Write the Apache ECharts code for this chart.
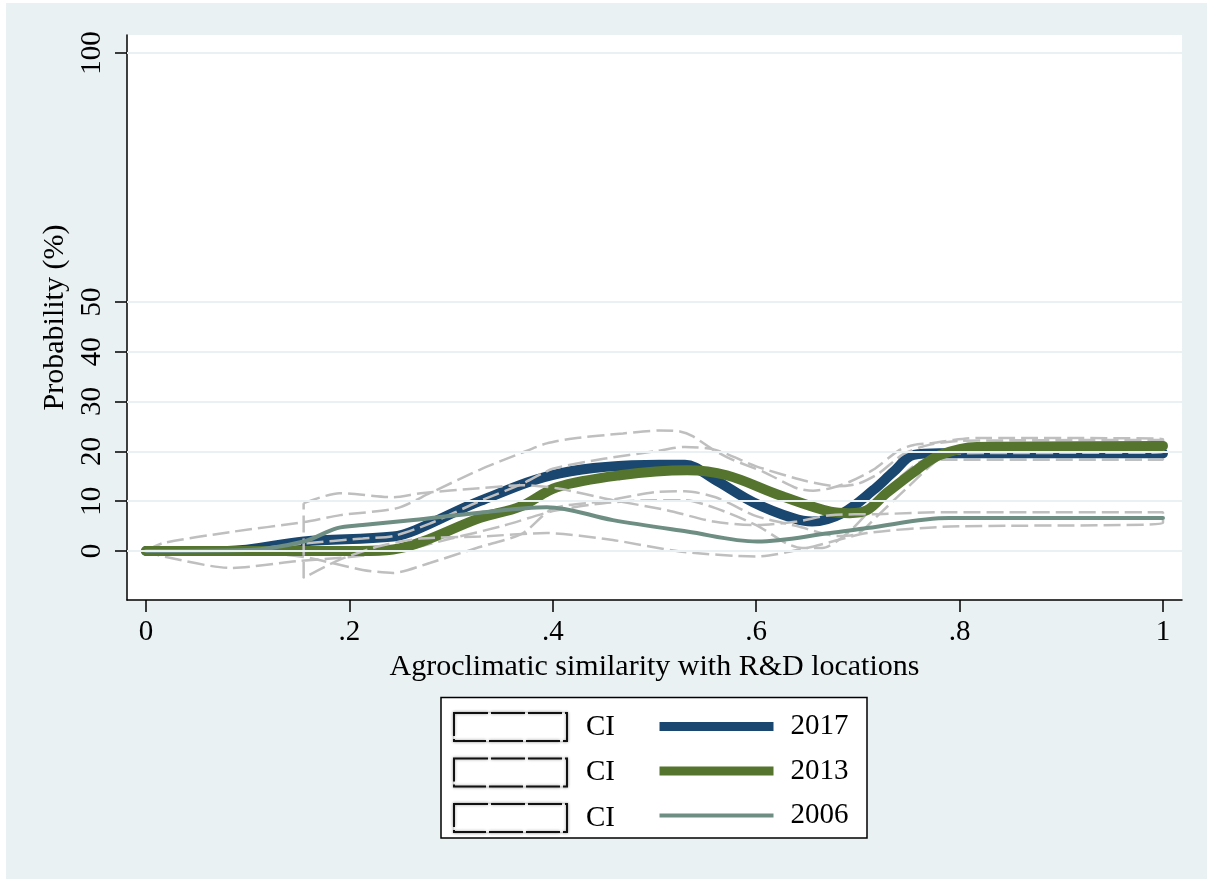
<!DOCTYPE html>
<html>
<head>
<meta charset="utf-8">
<script src="https://cdn.jsdelivr.net/npm/echarts@6/dist/echarts.min.js"></script>
<style>
  body { margin: 0; background: #fff; }
  #panel { position: absolute; left: 6px; top: 3px; width: 1201px; height: 876px; background: #eaf1f3; }
  #mychart { position: absolute; left: 0; top: 0; width: 1207px; height: 879px; }
</style>
</head>
<body>
<div id="panel"></div>
<div id="mychart"></div>
<script>
// x ticks / y ticks
const xTicks = [0, 0.2, 0.4, 0.6, 0.8, 1]
const yTicks = [0, 10, 20, 30, 40, 50, 100]

// fitted probabilities
const line2017 = [[0, 0], [0.08, 0], [0.155, 1.9], [0.243, 2.9], [0.265, 4.2], [0.328, 10], [0.407, 15.6], [0.505, 17.3], [0.53, 17.3], [0.558, 14.5], [0.597, 9.8], [0.636, 6.6], [0.655, 5.9], [0.685, 7.6], [0.715, 12.2], [0.735, 15.9], [0.755, 19.3], [0.78, 19.6], [1, 19.6]]
const line2013 = [[0, 0], [0.21, 0], [0.243, 0.3], [0.272, 1.9], [0.328, 6.6], [0.368, 8.9], [0.404, 12.8], [0.466, 15.2], [0.532, 16.2], [0.571, 15.2], [0.623, 11.2], [0.673, 7.9], [0.692, 7.6], [0.709, 8.2], [0.728, 11.6], [0.758, 16.3], [0.781, 19.3], [0.817, 20.9], [1, 21.1]]
const line2006 = [[0, 0], [0.1, 0.2], [0.155, 1.9], [0.188, 4.6], [0.213, 5.2], [0.263, 6.2], [0.328, 7.7], [0.394, 8.8], [0.459, 6.2], [0.532, 3.9], [0.601, 1.9], [0.673, 3.6], [0.709, 4.6], [0.79, 6.6], [1, 6.6]]

// confidence bands
const upper2017 = [[0, 0], [0.017, 1.6], [0.083, 3.8], [0.155, 5.8], [0.191, 7.2], [0.247, 8.6], [0.279, 11.6], [0.328, 16.3], [0.368, 19.6], [0.394, 21.6], [0.42, 22.6], [0.469, 23.6], [0.505, 24.2], [0.525, 24], [0.538, 23], [0.558, 20.3], [0.577, 18.3], [0.607, 15.9], [0.64, 12.6], [0.656, 12.1], [0.673, 12.6], [0.692, 13.9], [0.715, 16.3], [0.741, 20.3], [0.755, 21.3], [0.774, 21.7], [0.794, 22.3], [0.817, 22.7], [1, 22.5]]
const lower2017 = [[0, 0], [0.017, -1.1], [0.083, -3.4], [0.15, -2], [0.2, -1.2], [0.25, 0], [0.3, 2.5], [0.35, 5], [0.4, 8], [0.45, 9.6], [0.5, 10.2], [0.53, 10.2], [0.56, 8.6], [0.6, 5.2], [0.63, 1.5], [0.645, 0.6], [0.665, 0.6], [0.69, 3.6], [0.715, 8.9], [0.742, 14.9], [0.768, 18.3], [1, 18.3]]
const upper2013 = [[0, 0], [0.1, 0.3], [0.155, 1.5], [0.213, 2.5], [0.243, 3], [0.279, 5.5], [0.328, 10], [0.37, 13.5], [0.4, 16.5], [0.45, 18.5], [0.5, 20], [0.53, 20.9], [0.56, 20.3], [0.6, 17], [0.65, 14], [0.68, 13], [0.7, 13.5], [0.72, 15.5], [0.745, 19.5], [0.77, 21.3], [0.8, 22.1], [1, 22.3]]
const lower2013 = [[0, 0], [0.1, -0.3], [0.155, -1.2], [0.213, -3.8], [0.243, -4.4], [0.279, -2.4], [0.328, 0.8], [0.37, 3.5], [0.4, 8.5], [0.45, 10], [0.5, 11.8], [0.53, 12], [0.56, 10.8], [0.6, 7], [0.64, 5], [0.68, 3], [0.7, 3.5], [0.72, 7.2], [0.75, 13], [0.78, 18.5], [0.8, 19.6], [1, 19.8]]
const upper2006 = [[0.155, 9.6], [0.19, 11.6], [0.243, 10.8], [0.27, 11.6], [0.328, 12.6], [0.37, 13.2], [0.404, 12.6], [0.459, 10.2], [0.512, 8.2], [0.558, 5.9], [0.601, 5.2], [0.64, 5.9], [0.673, 7.2], [0.72, 7.4], [0.79, 7.8], [1, 7.8]]
const lower2006 = [[0.155, -5.4], [0.19, -1.8], [0.23, 1], [0.27, 2.5], [0.328, 2.9], [0.394, 3.6], [0.459, 2.2], [0.525, -0.1], [0.6, -1.1], [0.65, 0.6], [0.709, 3.6], [0.79, 4.9], [1, 5.6]]

const font = 'Liberation Serif'

// closed outline: upper left->right, lower right->left
function band(up, lo) {
  return up.concat(lo.slice().reverse(), [up[0]])
}

function ciSeries(name, up, lo) {
  return {
    name: name,
    type: 'line',
    data: band(up, lo),
    symbol: 'none',
    smooth: 0.25,
    silent: true,
    lineStyle: { color: '#bfbfbf', width: 2.5, type: [17, 6] }
  }
}

function fitSeries(name, data, color, width) {
  return {
    name: name,
    type: 'line',
    data: data,
    symbol: 'none',
    smooth: 0.35,
    silent: true,
    lineStyle: { color: color, width: width, cap: 'round', join: 'round' },
    itemStyle: { color: color }
  }
}

const hidden = { color: 'rgba(0,0,0,0)', borderColor: 'rgba(0,0,0,0)', borderWidth: 0 }

const myChart = echarts.init(document.getElementById('mychart'))

const options = {
  animation: false,
  textStyle: { fontFamily: font, color: '#000' },
  graphic: [{
    type: 'rect',
    shape: { x: 441, y: 697.5, width: 426, height: 140.5 },
    style: { fill: '#fff', stroke: '#000', lineWidth: 1.5 }
  }],
  grid: {
    left: 127, right: 25, top: 35, bottom: 279,
    show: true, backgroundColor: '#fff', borderWidth: 0
  },
  legend: [{
    orient: 'vertical',
    left: 453, top: 712, padding: 0,
    itemWidth: 113, itemHeight: 28, itemGap: 15.5,
    selectedMode: false,
    formatter: function () { return 'CI' },
    textStyle: { fontFamily: font, fontSize: 29, color: '#000', lineHeight: 28, padding: [0, 0, 0, 14] },
    data: ['CI 2017', 'CI 2013', 'CI 2006'].map(function (n) {
      return {
        name: n, icon: 'rect',
        itemStyle: { color: '#fff', borderColor: '#111', borderWidth: 2, borderType: [34, 3], shadowColor: '#999', shadowBlur: 3 }
      }
    })
  }, {
    orient: 'vertical',
    left: 655, top: 712, padding: 0,
    itemWidth: 114, itemHeight: 28, itemGap: 15.5,
    selectedMode: false,
    textStyle: { fontFamily: font, fontSize: 29, color: '#000', lineHeight: 28, padding: [0, 0, 0, 12] },
    data: [
      { name: '2017', itemStyle: hidden, lineStyle: { width: 9, cap: 'butt' } },
      { name: '2013', itemStyle: hidden, lineStyle: { width: 9, cap: 'butt' } },
      { name: '2006', itemStyle: hidden, lineStyle: { width: 4, cap: 'butt' } }
    ]
  }],
  xAxis: {
    type: 'value',
    min: -0.0187, max: 1.0187,
    name: 'Agroclimatic similarity with R&D locations',
    nameLocation: 'middle', nameGap: 47,
    nameTextStyle: { fontFamily: font, fontSize: 30, color: '#000' },
    axisLine: { show: true, onZero: false, lineStyle: { color: '#000', width: 1.5 } },
    axisTick: { show: true, length: 12, customValues: xTicks, lineStyle: { color: '#000', width: 1.5 } },
    axisLabel: {
      customValues: xTicks, margin: 18,
      fontFamily: font, fontSize: 29, color: '#000',
      formatter: function (v) { return v === 0 ? '0' : v === 1 ? '1' : String(+v.toFixed(1)).replace('0.', '.') }
    },
    splitLine: { show: false }
  },
  yAxis: {
    type: 'value',
    min: -9.84, max: 103.6,
    name: 'Probability (%)',
    nameLocation: 'middle', nameGap: 46,
    nameTextStyle: { fontFamily: font, fontSize: 30, color: '#000' },
    axisLine: { show: true, onZero: false, lineStyle: { color: '#000', width: 1.5 } },
    axisTick: { show: true, length: 12, customValues: yTicks, lineStyle: { color: '#000', width: 1.5 } },
    axisLabel: {
      customValues: yTicks, rotate: 90, margin: 20,
      fontFamily: font, fontSize: 29, color: '#000'
    },
    splitLine: { show: false }
  },
  series: [
    {
      name: 'grid',
      type: 'line',
      data: [],
      z: 1,
      silent: true,
      markLine: {
        symbol: 'none', silent: true, animation: false,
        label: { show: false },
        lineStyle: { color: '#eaf1f3', width: 2, type: 'solid' },
        data: yTicks.map(function (v) { return { yAxis: v } })
      }
    },
    ciSeries('CI 2017', upper2017, lower2017),
    fitSeries('2017', line2017, '#1a476f', 10),
    ciSeries('CI 2013', upper2013, lower2013),
    fitSeries('2013', line2013, '#55752f', 10),
    ciSeries('CI 2006', upper2006, lower2006),
    fitSeries('2006', line2006, '#6e8e84', 4)
  ]
}

myChart.setOption(options)
</script>
</body>
</html>
